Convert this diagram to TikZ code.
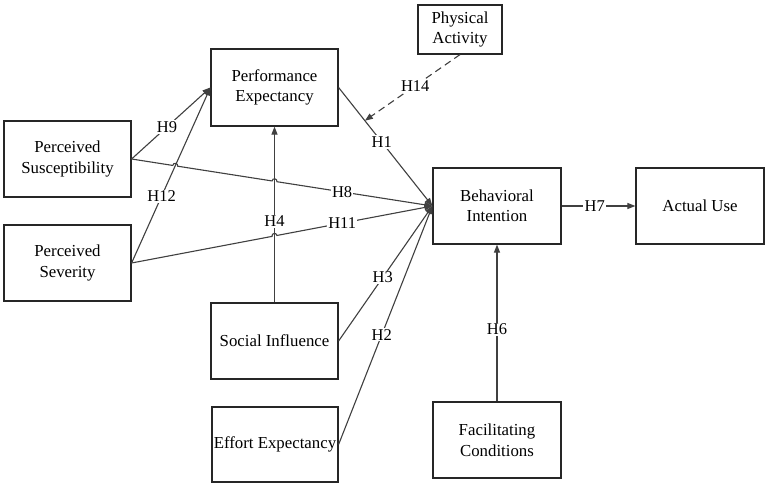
\documentclass[tikz,border=0pt]{standalone}
\usepackage{fontspec}
\setmainfont{Liberation Serif}
\usetikzlibrary{arrows.meta,calc,intersections}
\begin{document}
\begin{tikzpicture}[x=1pt,y=-1pt,
  box/.style={draw=black!85,line width=1.2pt,inner sep=0pt,align=center,text=black,
    font=\fontsize{16.8}{20.5}\selectfont},
  conn/.style={draw=black!75,line width=1.1pt},
  arr/.style={conn,-{Triangle[length=8pt,width=6pt]}},
  lbl/.style={fill=white,inner sep=1.2pt,font=\fontsize{16.5}{18}\selectfont,text=black}]
\useasboundingbox (0,0) rectangle (767,486);
\fill[white] (0,0) rectangle (767,486);
% nodes
\node[box,minimum width=127pt,minimum height=77pt] (PE) at (274.5,87.5) {Performance\\Expectancy};
\node[box,minimum width=84pt,minimum height=49pt] (PA) at (460,29.5) {Physical\\Activity};
\node[box,minimum width=128pt,minimum height=76pt] (BI) at (497,206) {Behavioral\\Intention};
\node[box,minimum width=128pt,minimum height=76pt] (AU) at (700,206) {Actual Use};
\node[box,minimum width=127pt,minimum height=76pt] (PS) at (67.5,159) {Perceived\\Susceptibility};
\node[box,minimum width=127pt,minimum height=76pt] (PSev) at (67.5,263) {Perceived\\Severity};
\node[box,minimum width=127pt,minimum height=76pt] (SI) at (274.5,341) {Social Influence};
\node[box,minimum width=126pt,minimum height=75pt] (EE) at (275,444.5) {Effort Expectancy};
\node[box,minimum width=128pt,minimum height=76pt] (FC) at (497,440) {Facilitating\\Conditions};
% crossing points
\path[name path=h12] (PSev.east) -- (PE.west);
\path[name path=h4] (SI.north) -- (PE.south);
\path[name path=h8] (PS.east) -- (BI.west);
\path[name path=h11] (PSev.east) -- (BI.west);
\path[name intersections={of=h8 and h12, by=xa}];
\path[name intersections={of=h8 and h4, by=xb}];
\path[name intersections={of=h11 and h4, by=xc}];
% connectors
\draw[arr] (PS.east) -- node[lbl,pos=.45]{H9} (PE.west);
\draw[arr] (PSev.east) -- node[lbl,pos=.38]{H12} (PE.west);
\draw[arr] (SI.north) -- node[lbl,pos=.46]{H4} (PE.south);
\draw[arr] (PE.east) -- node[lbl,pos=.46]{H1} (BI.west);
\draw[arr] (SI.east) -- node[lbl,pos=.47]{H3} (BI.west);
\draw[arr] (EE.east) -- node[lbl,pos=.46]{H2} (BI.west);
\draw[arr] (FC.north) -- node[lbl,pos=.46]{H6} (BI.south);
\draw[arr] (BI.east) -- node[lbl,pos=.45,inner sep=1.5pt]{H7} (AU.west);
\draw[arr] (PS.east) -- ($(xa)!2.5pt!(PS.east)$)
  to[out=81,in=81,looseness=1.7] ($(xa)!2.5pt!(BI.west)$)
  -- ($(xb)!2.5pt!(PS.east)$)
  to[out=81,in=81,looseness=1.7] ($(xb)!2.5pt!(BI.west)$) -- (BI.west);
\draw[arr] (PSev.east) -- ($(xc)!2.5pt!(PSev.east)$)
  to[out=101,in=101,looseness=1.7] ($(xc)!2.5pt!(BI.west)$) -- (BI.west);
\path (PS.east) -- node[lbl,pos=.70]{H8} (BI.west);
\path (PSev.east) -- node[lbl,pos=.70]{H11} (BI.west);
% moderator
\path (PE.east) -- coordinate[pos=.28] (modpt) (BI.west);
\draw[arr,dash pattern=on 7pt off 4.5pt] (PA.south) -- node[lbl,pos=.47]{H14} (modpt);
\end{tikzpicture}
\end{document}
